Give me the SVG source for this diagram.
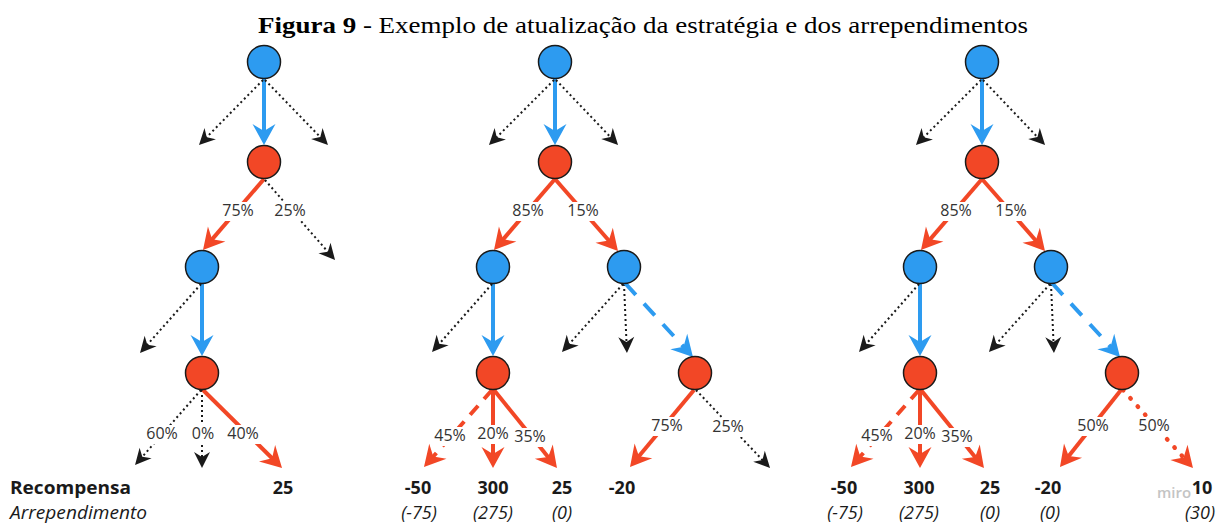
<svg xmlns="http://www.w3.org/2000/svg" width="1220" height="526" viewBox="0 0 1220 526">
<style>
.bn{fill:#2d9bf0;stroke:#1a1a1a;stroke-width:1.5}
.rn{fill:#f24726;stroke:#1a1a1a;stroke-width:1.5}
.eb{fill:none;stroke:#2d9bf0;stroke-width:4;marker-end:url(#mb)}
.ebd{fill:none;stroke:#2d9bf0;stroke-width:4;stroke-dasharray:16 12;marker-end:url(#mb)}
.er{fill:none;stroke:#f24726;stroke-width:4;marker-end:url(#mr)}
.erd{fill:none;stroke:#f24726;stroke-width:4;stroke-dasharray:12 9;marker-end:url(#mr)}
.ert{fill:none;stroke:#f24726;stroke-width:4.5;stroke-linecap:round;stroke-dasharray:0.5 10.5;marker-end:url(#mr)}
.ek{fill:none;stroke:#1a1a1a;stroke-width:2;stroke-dasharray:2 3;marker-end:url(#mk)}
.lb{fill:#fff}
.pc{font-family:"Open Sans","Noto Sans",sans-serif;font-size:16px;fill:#333;text-anchor:middle}
.val{font-family:"Open Sans","Noto Sans",sans-serif;font-size:18px;font-weight:bold;fill:#1a1a1a;text-anchor:middle}
.reg{font-family:"Open Sans","Noto Sans",sans-serif;font-size:18px;font-style:italic;fill:#1a1a1a;text-anchor:middle}
</style>
<defs>
<marker id="mb" viewBox="-23 -13 24 26" markerWidth="24" markerHeight="26" refX="-10" refY="0" orient="auto" markerUnits="userSpaceOnUse"><path d="M0,0 L-21,-11.5 L-14,0 L-21,11.5 Z" fill="#2d9bf0"/></marker>
<marker id="mr" viewBox="-23 -13 24 26" markerWidth="24" markerHeight="26" refX="-10" refY="0" orient="auto" markerUnits="userSpaceOnUse"><path d="M0,0 L-21,-11.5 L-14,0 L-21,11.5 Z" fill="#f24726"/></marker>
<marker id="mk" viewBox="-18 -10 19 20" markerWidth="19" markerHeight="20" refX="-6" refY="0" orient="auto" markerUnits="userSpaceOnUse"><path d="M0,0 L-16,-8 L-11,0 L-16,8 Z" fill="#1a1a1a"/></marker>
</defs>
<rect width="1220" height="526" fill="#fff"/>
<text x="258" y="33" font-family="'Liberation Serif','Times New Roman',serif" font-size="23" fill="#000" textLength="770" lengthAdjust="spacingAndGlyphs"><tspan font-weight="bold">Figura 9</tspan> - Exemplo de atualização da estratégia e dos arrependimentos</text>

<g id="connectors">
<!-- tree 1 -->
<path class="eb" d="M264,79 L264,135"/>
<path class="ek" d="M263,80 L203.2,140.7"/>
<path class="ek" d="M265,80 L323.8,140.7"/>
<path class="er" d="M264,179 L209.5,242.4"/>
<path class="ek" d="M265,180 L331.1,255.5"/>
<path class="eb" d="M202,284 L202,346"/>
<path class="ek" d="M201,284 L144,348.5"/>
<path class="ek" d="M201,390 L139,460.5"/>
<path class="ek" d="M202,390 L202,462"/>
<path class="er" d="M203,390 L274.9,461"/>
<!-- tree 2 -->
<path class="eb" d="M555,79 L555,135"/>
<path class="ek" d="M554,80 L493.2,140.8"/>
<path class="ek" d="M556,80 L613.9,140.7"/>
<path class="er" d="M555,179 L500.5,242.4"/>
<path class="er" d="M555,179 L611.4,243.5"/>
<path class="eb" d="M493,284 L493,346"/>
<path class="ek" d="M492,284 L436,347.5"/>
<path class="ek" d="M623,284 L566,347.5"/>
<path class="ek" d="M624,284 L626.7,347"/>
<path class="ebd" d="M625,283 L686.2,349.6"/>
<path class="erd" d="M492,390 L430.6,459.5"/>
<path class="er" d="M493,390 L493,458"/>
<path class="er" d="M494,390 L550.7,460.2"/>
<path class="er" d="M694,390 L636.4,459.3"/>
<path class="ek" d="M696,390 L765.9,463.6"/>
<!-- tree 3 -->
<path class="eb" d="M982,79 L982,135"/>
<path class="ek" d="M981,80 L920.2,140.8"/>
<path class="ek" d="M983,80 L1040.9,140.7"/>
<path class="er" d="M982,179 L927.5,242.4"/>
<path class="er" d="M982,179 L1038.4,243.5"/>
<path class="eb" d="M920,284 L920,346"/>
<path class="ek" d="M919,284 L863,347.5"/>
<path class="ek" d="M1050,284 L993,347.5"/>
<path class="ek" d="M1051,284 L1053.7,347"/>
<path class="ebd" d="M1052,283 L1113.2,349.6"/>
<path class="erd" d="M919,390 L857.6,459.5"/>
<path class="er" d="M920,390 L920,458"/>
<path class="er" d="M921,390 L977.7,460.2"/>
<path class="er" d="M1121,390 L1066.2,459.2"/>
<path class="ert" d="M1123,390 L1186.3,460.6"/>
</g>

<g id="edge-labels">
<rect class="lb" x="220" y="202" width="36" height="19"/><text class="pc" x="238" y="216">75%</text>
<rect class="lb" x="272" y="202" width="36" height="19"/><text class="pc" x="290" y="216">25%</text>
<rect class="lb" x="144" y="425" width="36" height="19"/><text class="pc" x="162" y="439">60%</text>
<rect class="lb" x="189" y="425" width="28" height="19"/><text class="pc" x="203" y="439">0%</text>
<rect class="lb" x="225" y="425" width="36" height="19"/><text class="pc" x="243" y="439">40%</text>

<rect class="lb" x="510" y="202" width="36" height="19"/><text class="pc" x="528" y="216">85%</text>
<rect class="lb" x="565" y="202" width="36" height="19"/><text class="pc" x="583" y="216">15%</text>
<rect class="lb" x="432" y="427" width="36" height="19"/><text class="pc" x="450" y="441">45%</text>
<rect class="lb" x="475" y="425" width="36" height="19"/><text class="pc" x="493" y="439">20%</text>
<rect class="lb" x="512" y="428" width="36" height="19"/><text class="pc" x="530" y="442">35%</text>
<rect class="lb" x="649" y="417" width="36" height="19"/><text class="pc" x="667" y="431">75%</text>
<rect class="lb" x="710" y="418" width="36" height="19"/><text class="pc" x="728" y="432">25%</text>

<rect class="lb" x="938" y="202" width="36" height="19"/><text class="pc" x="956" y="216">85%</text>
<rect class="lb" x="993" y="202" width="36" height="19"/><text class="pc" x="1011" y="216">15%</text>
<rect class="lb" x="859" y="427" width="36" height="19"/><text class="pc" x="877" y="441">45%</text>
<rect class="lb" x="902" y="425" width="36" height="19"/><text class="pc" x="920" y="439">20%</text>
<rect class="lb" x="939" y="428" width="36" height="19"/><text class="pc" x="957" y="442">35%</text>
<rect class="lb" x="1075" y="417" width="36" height="19"/><text class="pc" x="1093" y="431">50%</text>
<rect class="lb" x="1136" y="417" width="36" height="19"/><text class="pc" x="1154" y="431">50%</text>
</g>

<g id="t1-a"><circle class="bn" cx="264" cy="62" r="16.5"/></g>
<g id="t1-b"><circle class="rn" cx="264" cy="162" r="16.5"/></g>
<g id="t1-c"><circle class="bn" cx="202" cy="267" r="16.5"/></g>
<g id="t1-d"><circle class="rn" cx="202" cy="373" r="16.5"/></g>

<g id="t2-a"><circle class="bn" cx="555" cy="62" r="16.5"/></g>
<g id="t2-b"><circle class="rn" cx="555" cy="162" r="16.5"/></g>
<g id="t2-cl"><circle class="bn" cx="493" cy="267" r="16.5"/></g>
<g id="t2-cr"><circle class="bn" cx="624" cy="267" r="16.5"/></g>
<g id="t2-dl"><circle class="rn" cx="493" cy="373" r="16.5"/></g>
<g id="t2-dr"><circle class="rn" cx="695" cy="373" r="16.5"/></g>

<g id="t3-a"><circle class="bn" cx="982" cy="62" r="16.5"/></g>
<g id="t3-b"><circle class="rn" cx="982" cy="162" r="16.5"/></g>
<g id="t3-cl"><circle class="bn" cx="920" cy="267" r="16.5"/></g>
<g id="t3-cr"><circle class="bn" cx="1051" cy="267" r="16.5"/></g>
<g id="t3-dl"><circle class="rn" cx="920" cy="373" r="16.5"/></g>
<g id="t3-dr"><circle class="rn" cx="1122" cy="373" r="16.5"/></g>

<g id="legend">
<text x="10" y="494" font-family="'Open Sans','Noto Sans',sans-serif" font-size="18" font-weight="bold" fill="#1a1a1a" textLength="121" lengthAdjust="spacingAndGlyphs">Recompensa</text>
<text x="10" y="519" font-family="'Open Sans','Noto Sans',sans-serif" font-size="18" font-style="italic" fill="#1a1a1a" textLength="137" lengthAdjust="spacingAndGlyphs">Arrependimento</text>
</g>

<g id="values">
<text class="val" x="283" y="494">25</text>
<text class="val" x="418" y="494">-50</text>
<text class="val" x="493" y="494">300</text>
<text class="val" x="562" y="494">25</text>
<text class="val" x="622" y="494">-20</text>
<text class="val" x="844" y="494">-50</text>
<text class="val" x="919" y="494">300</text>
<text class="val" x="990" y="494">25</text>
<text class="val" x="1048" y="494">-20</text>
<text class="val" x="1202" y="494">10</text>
<text class="reg" x="419" y="519">(-75)</text>
<text class="reg" x="493" y="519">(275)</text>
<text class="reg" x="562" y="519">(0)</text>
<text class="reg" x="845" y="519">(-75)</text>
<text class="reg" x="919" y="519">(275)</text>
<text class="reg" x="990" y="519">(0)</text>
<text class="reg" x="1050" y="519">(0)</text>
<text class="reg" x="1200" y="519">(30)</text>
</g>
<text x="1174" y="498" font-family="'Open Sans','Noto Sans',sans-serif" font-size="15" font-weight="600" fill="#c4c4c4" text-anchor="middle">miro</text>
</svg>
